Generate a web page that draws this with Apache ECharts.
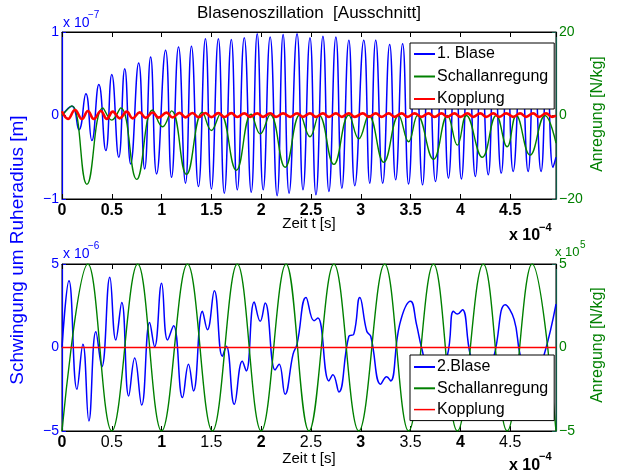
<!DOCTYPE html>
<html>
<head>
<meta charset="utf-8">
<script src="https://cdn.jsdelivr.net/npm/echarts@6/dist/echarts.min.js"></script>
<style>
html, body { margin: 0; padding: 0; background: #fff; }
#chart { width: 617px; height: 476px; }
</style>
</head>
<body>
<div id="chart"></div>
<script>
// Zeit in 1e-4 s, Auslenkung oben in 1e-7 m, unten in 1e-6 m, Anregung unten in 1e5 N/kg
var tMax = 4.96;

// oben: 1. Blase (Extrema)
var blase1T = [0,0.10,0.17,0.24,0.30,0.37,0.44,0.50,0.57,0.63,0.69,0.77,0.83,0.89,0.95,1.04,1.10,1.17,1.24,1.30,
  1.37,1.44,1.50,1.57,1.63,1.70,1.76,1.83,1.90,1.96,2.02,2.09,2.16,2.22,2.28,2.36,2.42,2.49,2.55,2.62,
  2.68,2.75,2.81,2.88,2.94,3.03,3.09,3.15,3.22,3.29,3.35,3.42,3.48,3.55,3.62,3.68,3.75,3.82,3.88,3.95,
  4.01,4.08,4.15,4.21,4.28,4.34,4.41,4.47,4.53,4.61,4.68,4.74,4.81,4.87,4.93,4.96];
var blase1V = [0,0.11,-0.17,0.26,-0.30,0.37,-0.42,0.49,-0.50,0.56,-0.58,0.63,-0.64,0.70,-0.70,0.78,-0.74,0.82,-0.81,0.83,
  -0.85,0.92,-0.88,0.92,-0.93,0.91,-0.89,0.93,-0.92,0.98,-0.89,0.94,-0.96,0.97,-0.93,0.98,-0.89,0.93,-0.95,0.95,
  -0.91,0.94,-0.87,0.90,-0.84,0.90,-0.81,0.90,-0.81,0.85,-0.77,0.86,-0.82,0.84,-0.83,0.82,-0.79,0.80,-0.75,0.78,
  -0.76,0.76,-0.73,0.74,-0.71,0.72,-0.69,0.70,-0.67,0.69,-0.67,0.68,-0.67,0.66,-0.62,-0.5];

// oben: Schallanregung [N/kg]
var anregObenT = [0,0.10,0.25,0.41,0.50,0.59,0.75,0.91,1.01,1.10,1.25,1.41,1.50,1.59,1.75,1.90,1.99,2.09,2.24,2.39,
  2.49,2.58,2.73,2.88,2.98,3.08,3.23,3.38,3.48,3.57,3.73,3.87,3.97,4.06,4.22,4.36,4.47,4.56,4.70,4.85,4.96];
var anregObenV = [0,2.3,-16.5,1.8,-1.1,1.8,-15.3,1.3,-2.7,1.1,-14.1,0.8,-3.6,0.4,-13.1,0.3,-4.4,0.2,-12.4,0.2,
  -5.1,0.1,-11.7,0.1,-5.6,0,-11.2,0,-6.3,0,-10.5,0,-7.1,0,-10.0,0,-7.5,0,-9.5,0,-6.6];

// oben: Kopplung
var kopplungT = [0,0.06,0.13,0.20,0.26,0.32,0.39,0.45,0.51,0.58,0.65,0.71,0.78,0.84,0.91,0.97,1.05,1.11,1.18,1.24,
  1.31,1.37,1.44,1.50,1.57,1.63,1.70,1.76,1.83,1.89,1.96,2.02,2.09,2.15,2.22,2.29,2.36,2.42,2.49,2.55,
  2.62,2.68,2.75,2.81,2.88,2.94,3.02,3.08,3.15,3.21,3.28,3.34,3.41,3.47,3.54,3.61,3.68,3.74,3.81,3.87,
  3.94,4.00,4.07,4.13,4.20,4.26,4.33,4.39,4.46,4.53,4.60,4.66,4.73,4.79,4.86,4.92,4.96];
var kopplungV = [0.05,-0.04,0.066,-0.042,0.054,-0.042,0.054,-0.04,0.046,-0.034,0.046,-0.034,0.038,-0.028,0.036,-0.026,0.034,-0.024,0.032,-0.022,
  0.03,-0.02,0.03,-0.02,0.028,-0.018,0.028,-0.018,0.026,-0.016,0.026,-0.016,0.027,-0.017,0.026,-0.016,0.025,-0.016,0.026,-0.017,
  0.026,-0.016,0.025,-0.016,0.026,-0.016,0.025,-0.017,0.026,-0.016,0.025,-0.016,0.026,-0.016,0.025,-0.016,0.026,-0.017,0.025,-0.016,
  0.026,-0.016,0.025,-0.016,0.026,-0.016,0.025,-0.016,0.026,-0.016,0.025,-0.016,0.026,-0.016,0.025,-0.016,0];

// unten: 2. Blase
var blase2T = [0,0.07,0.15,0.21,0.27,0.34,0.40,0.48,0.54,0.60,0.67,0.73,0.80,0.88,0.93,1.00,1.06,1.12,1.21,1.27,
  1.32,1.41,1.46,1.53,1.61,1.65,1.73,1.81,1.85,1.93,1.99,2.04,2.14,2.18,2.24,2.32,2.36,2.45,2.53,2.57,
  2.68,2.72,2.78,2.88,2.93,2.99,3.06,3.10,3.20,3.26,3.30,3.39,3.50,3.56,3.61,3.73,3.87,3.93,3.97,4.02,
  4.10,4.22,4.34,4.45,4.54,4.60,4.71,4.84,4.96];
var blase2V = [0,4.0,-2.5,0.2,-4.4,0.95,-1.15,4.2,0.45,2.7,-2.9,-0.63,-3.45,1.5,0.05,3.85,0.45,1.3,-3.0,-1.0,
  -2.6,2.17,1.07,3.4,-0.53,0.07,-3.4,-0.83,-1.4,2.72,1.57,2.66,-1.35,-1.0,-2.8,-0.4,0.2,3.0,1.6,1.77,
  -2.0,-1.63,-2.66,0.67,0.8,3.0,0.97,0.67,-2.2,-1.75,-2.0,1.37,2.77,1.37,0,-2.5,-0.45,2.17,2.0,2.26,
  -0.45,-2.5,-0.45,2.56,1.67,-0.45,-2.5,-0.45,2.6];

// unten: Schallanregung [1e5 N/kg]
var anregUntenT = [0,0.26,0.50,0.76,1.00,1.26,1.51,1.76,2.00,2.25,2.48,2.73,2.98,3.24,3.48,3.73,3.97,4.23,4.47,4.72,4.96];
var anregUntenV = [-5,5,-5,5,-5,5,-5,5,-5,5,-5,5,-5,5,-5,5,-5,5,-5,5,-5];

// unten: Kopplung
var kopplung2T = [0, 4.96];
var kopplung2V = [0, 0];

function zip(t, v) {
  var res = [];
  for (var i = 0; i < t.length; i++) res.push([t[i], v[i]]);
  return res;
}

var FONT = 'Liberation Sans';
var BLUE = '#0000ff', GREEN = '#008000', RED = '#ff0000';

function minus(v) { return String(v).replace('-', '\u2212'); }

function xAxisBottom(grid, richLabels) {
  return {
    type: 'value', gridIndex: grid, position: 'bottom', min: 0, max: tMax, interval: 0.5,
    axisLine: { show: true, onZero: false, lineStyle: { color: '#000', width: 1 } },
    axisTick: { show: true, inside: true, length: 5, lineStyle: { color: '#000' } },
    splitLine: { show: false },
    axisLabel: {
      showMaxLabel: false, margin: 4, color: '#000', fontFamily: FONT, fontSize: 16,
      fontWeight: richLabels ? 'normal' : 'bold',
      formatter: function (v) {
        if (!richLabels) return String(v);
        return (v % 1 === 0) ? '{b|' + v + '}' : '{n|' + v + '}';
      },
      rich: {
        b: { fontFamily: FONT, fontSize: 16, fontWeight: 'bold', color: '#000' },
        n: { fontFamily: FONT, fontSize: 16, color: '#000' }
      }
    }
  };
}
function xAxisTop(grid) {
  return {
    type: 'value', gridIndex: grid, position: 'top', min: 0, max: tMax, interval: 0.5,
    axisLine: { show: true, onZero: false, lineStyle: { color: '#000' } },
    axisTick: { show: true, inside: true, length: 5, lineStyle: { color: '#000' } },
    axisLabel: { show: false }, splitLine: { show: false }
  };
}
function yAxis(grid, pos, lim, color, lineColor) {
  return {
    type: 'value', gridIndex: grid, position: pos, min: -lim, max: lim, interval: lim,
    axisLine: { show: true, onZero: false, lineStyle: { color: lineColor, width: 1.2 } },
    axisTick: { show: true, inside: true, length: 4, lineStyle: { color: lineColor } },
    splitLine: { show: false },
    axisLabel: { color: color, fontFamily: FONT, fontSize: 14, margin: 3, formatter: minus }
  };
}

function line(name, xi, yi, data, color, width, z, smooth) {
  return {
    name: name, type: 'line', xAxisIndex: xi, yAxisIndex: yi, data: data,
    smooth: smooth, symbol: 'none', z: z, animation: false,
    lineStyle: { color: color, width: width }, itemStyle: { color: color }
  };
}

function txt(x, y, s, size, color, extra) {
  var st = { text: s, x: 0, y: 0, fill: color, fontFamily: FONT, fontSize: size,
    align: 'left', verticalAlign: 'middle' };
  for (var k in extra) st[k] = extra[k];
  return { type: 'text', x: x, y: y, style: st, z: 100 };
}

var legendBox = {
  orient: 'vertical', selectedMode: false, backgroundColor: '#fff',
  borderColor: '#000', borderWidth: 1, borderRadius: 0,
  itemWidth: 21, itemHeight: 14,
  itemStyle: { opacity: 0 },
  textStyle: { fontFamily: FONT, fontSize: 16, color: '#000', padding: [0, 0, 0, -3] }
};

var chart = echarts.init(document.getElementById('chart'));
var option = {
  backgroundColor: '#fff',
  animation: false,
  grid: [
    { left: 62, top: 32, width: 494, height: 167, show: true, borderColor: '#000', borderWidth: 1, outerBoundsMode: 'none' },
    { left: 62, top: 264, width: 494, height: 167, show: true, borderColor: '#000', borderWidth: 1, outerBoundsMode: 'none' }
  ],
  xAxis: [xAxisBottom(0, false), xAxisTop(0), xAxisBottom(1, true), xAxisTop(1)],
  yAxis: [
    yAxis(0, 'left', 1, BLUE, BLUE),
    yAxis(0, 'right', 20, GREEN, '#0e5a46'),
    yAxis(1, 'left', 5, BLUE, BLUE),
    yAxis(1, 'right', 5, GREEN, '#0e5a46')
  ],
  legend: [
    Object.assign({}, legendBox, {
      left: 410, top: 43, padding: [3, 6, 2, 3], itemGap: 6.5,
      data: ['1. Blase', 'Schallanregung', 'Kopplung']
    }),
    Object.assign({}, legendBox, {
      left: 410, top: 355, padding: [4, 6, 3, 3], itemGap: 5.3,
      data: ['2.Blase', { name: 'Schallanregung' }, { name: 'Kopplung', lineStyle: { width: 1.5, color: RED } }]
    })
  ],
  series: [
    line('1. Blase', 0, 0, zip(blase1T, blase1V), BLUE, 1.5, 2, 0.5),
    line('Schallanregung', 0, 1, zip(anregObenT, anregObenV), GREEN, 1.4, 3, 0.45),
    line('Kopplung', 0, 0, zip(kopplungT, kopplungV), RED, 2.6, 4, 0.45),
    line('2.Blase', 2, 2, zip(blase2T, blase2V), BLUE, 1.5, 2, 0.45),
    line('Schallanregung', 2, 3, zip(anregUntenT, anregUntenV), GREEN, 1.4, 3, 0.4),
    line('Kopplung', 2, 2, zip(kopplung2T, kopplung2V), RED, 1.6, 4, 0)
  ],
  graphic: [
    txt(309, 13, 'Blasenoszillation  [Ausschnitt]', 17, '#000', { align: 'center' }),
    txt(63, 23, 'x 10', 14, BLUE),
    txt(88, 15, '\u22127', 10, BLUE),
    txt(63, 254, 'x 10', 14, BLUE),
    txt(88, 246, '\u22126', 10, BLUE),
    txt(555, 252, 'x 10', 13, GREEN),
    txt(580, 245, '5', 10, GREEN),
    txt(309, 224, 'Zeit t [s]', 15, '#000', { align: 'center' }),
    txt(309, 459, 'Zeit t [s]', 15, '#000', { align: 'center' }),
    txt(509, 236, 'x 10', 16, '#000', { fontWeight: 'bold' }),
    txt(539, 228, '\u22124', 11, '#000', { fontWeight: 'bold' }),
    txt(509, 466, 'x 10', 16, '#000', { fontWeight: 'bold' }),
    txt(539, 457, '\u22124', 11, '#000', { fontWeight: 'bold' }),
    { type: 'text', x: 18, y: 250, rotation: Math.PI / 2, z: 100,
      style: { text: 'Schwingung um Ruheradius [m]', fill: BLUE, fontFamily: FONT, fontSize: 19, align: 'center', verticalAlign: 'middle' } },
    { type: 'text', x: 598, y: 114, rotation: Math.PI / 2, z: 100,
      style: { text: 'Anregung [N/kg]', fill: GREEN, fontFamily: FONT, fontSize: 16, align: 'center', verticalAlign: 'middle' } },
    { type: 'text', x: 598, y: 345, rotation: Math.PI / 2, z: 100,
      style: { text: 'Anregung [N/kg]', fill: GREEN, fontFamily: FONT, fontSize: 16, align: 'center', verticalAlign: 'middle' } }
  ]
};
chart.setOption(option);
</script>
</body>
</html>
